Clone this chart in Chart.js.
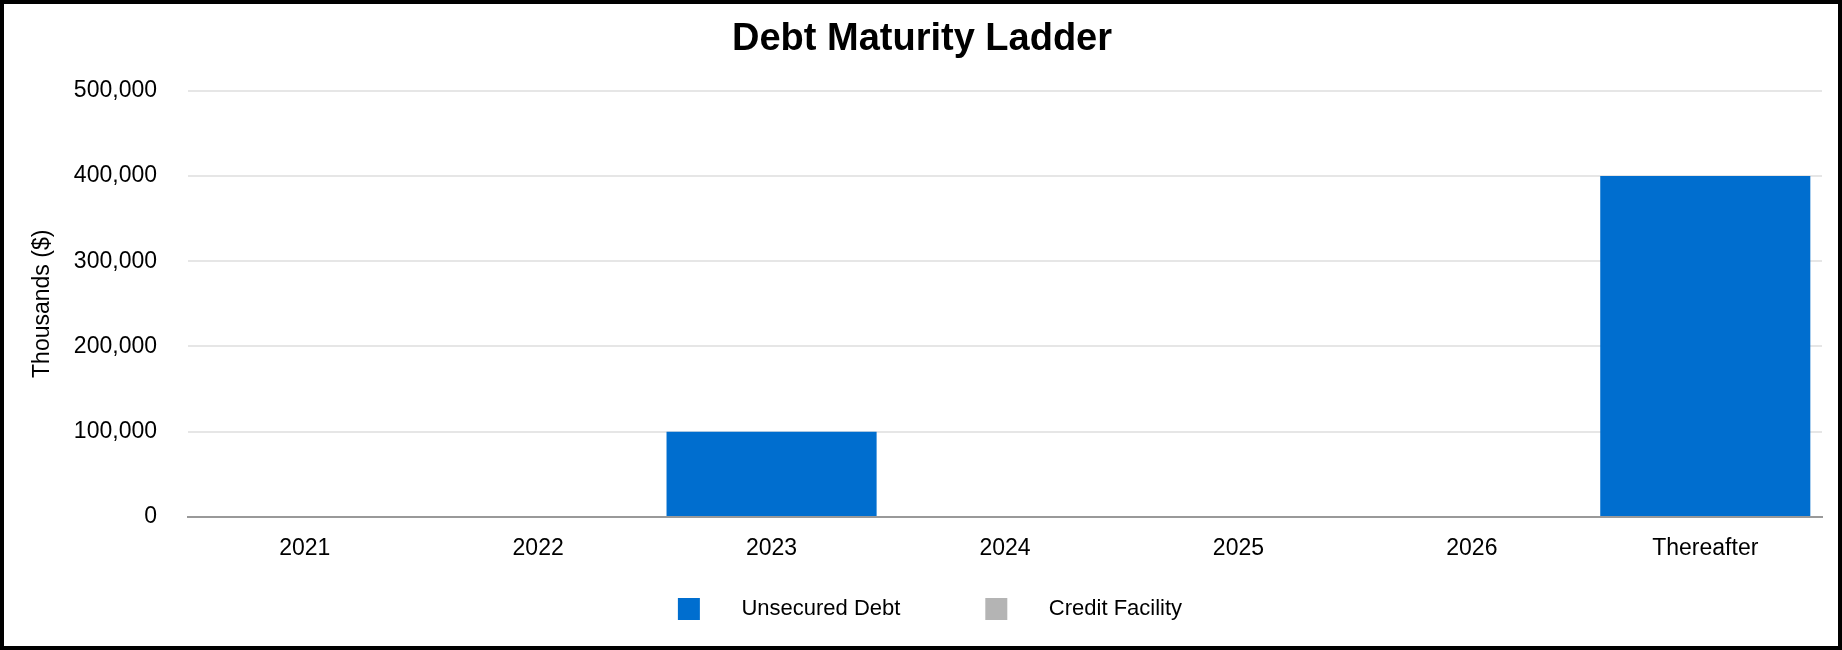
<!DOCTYPE html>
<html>
<head>
<meta charset="utf-8">
<title>Debt Maturity Ladder</title>
<script src="https://cdn.jsdelivr.net/npm/chart.js@4/dist/chart.umd.min.js"></script>
<style>
  html, body { margin: 0; padding: 0; background: #fff; }
  #wrap { width: 1842px; height: 650px; box-sizing: border-box; border: 4px solid #000; }
</style>
</head>
<body>
<div id="wrap"><canvas id="myChart" width="1834" height="642"></canvas></div>
<script>
var years = ["2021", "2022", "2023", "2024", "2025", "2026", "Thereafter"];
var unsecuredDebt = [0, 0, 100000, 0, 0, 0, 400000];
var creditFacility = [0, 0, 0, 0, 0, 0, 0];
var yTicks = [0, 100000, 200000, 300000, 400000, 500000];

Chart.defaults.font.family = "'Liberation Sans', Arial, sans-serif";
Chart.defaults.color = "#000";

// title and legend sit centred on the page, not on the padded chart box
var shiftBlocks = {
  id: "shiftBlocks",
  afterLayout: function (chart) {
    chart.legend.left += 17;
    chart.legend.right += 17;
    chart.titleBlock.left += 9;
    chart.titleBlock.right += 9;
  },
};

new Chart("myChart", {
  type: "bar",
  data: {
    labels: years,
    datasets: [
      {
        label: "Unsecured Debt",
        data: unsecuredDebt,
        backgroundColor: "#006ecf",
      },
      {
        label: "Credit Facility",
        data: creditFacility,
        backgroundColor: "#b4b4b4",
      },
    ],
  },
  options: {
    responsive: false,
    animation: false,
    events: [],
    barPercentage: 0.9,
    categoryPercentage: 1,
    layout: { padding: { left: 0, right: 16, top: 0, bottom: 16 } },
    plugins: {
      title: {
        display: true,
        text: "Debt Maturity Ladder",
        font: { size: 38, weight: "bold" },
        padding: { top: 13, bottom: 28 },
      },
      legend: {
        position: "bottom",
        labels: {
          boxWidth: 22,
          boxHeight: 22,
          padding: 36,
          font: { size: 22 },
          generateLabels: function (chart) {
            var items = Chart.defaults.plugins.legend.labels.generateLabels(chart);
            items.forEach(function (it, i) {
              it.text = "     " + it.text + (i === 0 ? "        " : "");
              it.lineWidth = 0;
            });
            return items;
          },
        },
      },
      tooltip: { enabled: false },
    },
    scales: {
      x: {
        stacked: true,
        grid: { display: false, drawTicks: false },
        border: { display: true, color: "#999", width: 2 },
        ticks: { font: { size: 23 }, padding: 18 },
        afterFit: function (scale) {
          scale.height = 45;
        },
      },
      y: {
        stacked: true,
        min: 0,
        max: 500000,
        afterBuildTicks: function (scale) {
          scale.ticks = yTicks.map(function (v) { return { value: v }; });
        },
        grid: { color: "#e6e6e6", lineWidth: 2, drawTicks: false },
        border: { display: false },
        ticks: {
          font: { size: 23 },
          padding: 31,
          callback: function (v) { return v.toLocaleString("en-US"); },
        },
        title: {
          display: true,
          text: "Thousands ($)",
          font: { size: 23 },
          padding: { top: 25, bottom: 0 },
        },
        afterFit: function (scale) {
          scale.width = 184;
        },
      },
    },
  },
  plugins: [shiftBlocks],
});
</script>
</body>
</html>
